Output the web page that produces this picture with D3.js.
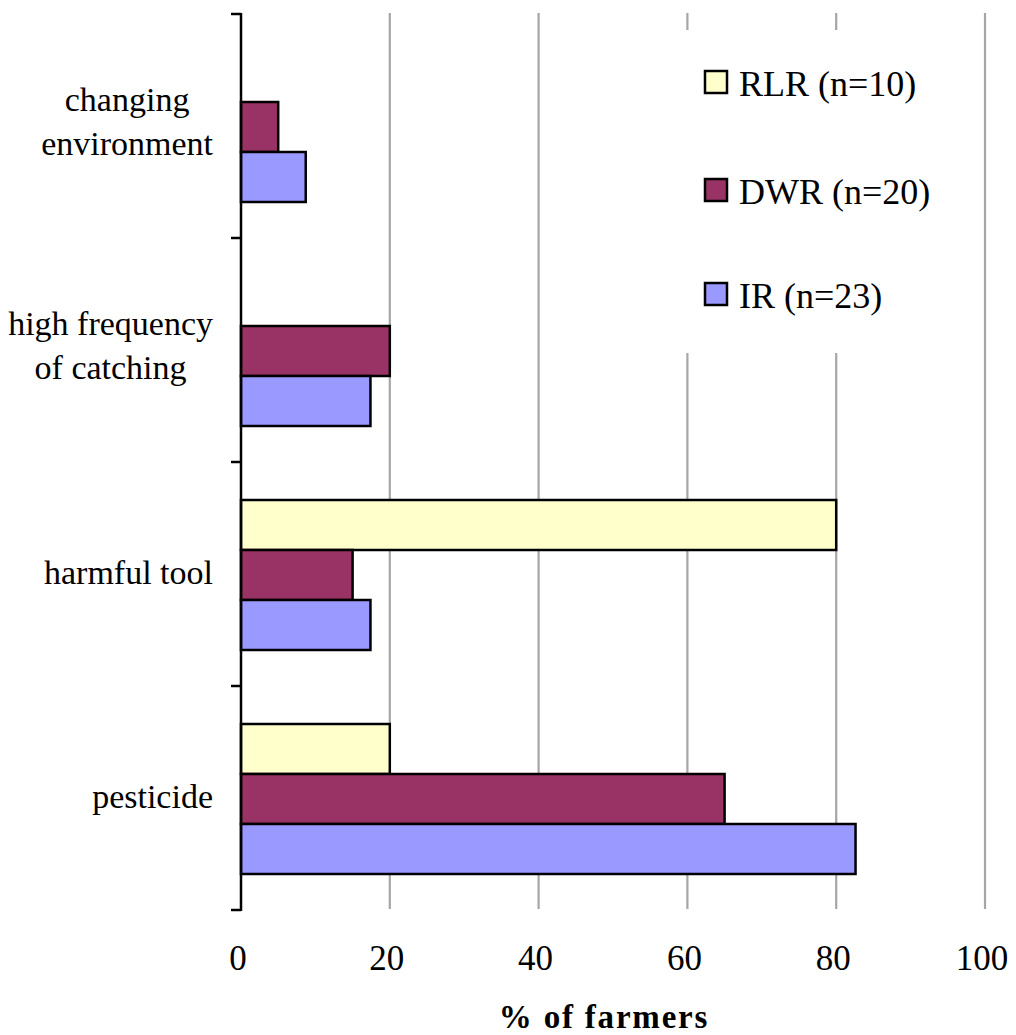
<!DOCTYPE html>
<html><head><meta charset="utf-8">
<script src="https://cdn.jsdelivr.net/npm/d3@7"></script>
<style>body{margin:0;background:#fff}svg{display:block}
svg text{font-family:"Liberation Serif","Times New Roman",Times,"DejaVu Serif",serif;}</style>
</head><body>
<script>
const categories = ["changing environment", "high frequency of catching", "harmful tool", "pesticide"];
const categoryLines = [["changing","environment"],["high frequency","of catching"],["harmful tool"],["pesticide"]];
const seriesNames = ["RLR (n=10)", "DWR (n=20)", "IR (n=23)"];
const seriesKeys = ["RLR","DWR","IR"];
const RLR = [0, 0, 80, 20];
const DWR = [5, 20, 15, 65];
const IR = [8.7, 17.4, 17.4, 82.6];
const xTicks = [0, 20, 40, 60, 80, 100];
const colors = ["#FFFFCC", "#993366", "#9999FF"];
const seriesVals = [RLR, DWR, IR];

const W = 1016, H = 1035;
const svg = d3.select("body").append("svg").attr("width", W).attr("height", H);

const x = d3.scaleLinear().domain([0, 100]).range([241, 985]);
const y = d3.scaleBand().domain(categories).range([14, 910]);
const ys = d3.scaleBand().domain(seriesKeys).range([38, 188]);

// gridlines
svg.append("g").selectAll("line").data(xTicks.filter(d => d > 0)).join("line")
  .attr("x1", d => x(d)).attr("x2", d => x(d)).attr("y1", 13).attr("y2", 909)
  .attr("stroke", "#a6a6a6").attr("stroke-width", 2.2);

// legend background
svg.append("rect").attr("x", 655).attr("y", 30).attr("width", 320).attr("height", 323).attr("fill", "#fff");

// bars
seriesKeys.forEach((k, si) => {
  svg.append("g").selectAll("rect").data(categories.map((c, i) => ({c, v: seriesVals[si][i]})).filter(d => d.v > 0))
    .join("rect")
    .attr("x", x(0)).attr("y", d => y(d.c) + ys(k))
    .attr("width", d => x(d.v) - x(0)).attr("height", ys.bandwidth())
    .attr("fill", colors[si]).attr("stroke", "#000").attr("stroke-width", 2.5);
});

// y axis
const yAxis = svg.append("g");
yAxis.append("line").attr("x1", 241).attr("x2", 241).attr("y1", 13).attr("y2", 911).attr("stroke", "#000").attr("stroke-width", 2.5);
const tickYs = categories.map(c => y(c)).concat([y.range()[1]]);
yAxis.selectAll("line.t").data(tickYs).join("line").attr("class", "t")
  .attr("x1", 231).attr("x2", 241).attr("y1", d => d).attr("y2", d => d)
  .attr("stroke", "#000").attr("stroke-width", 2.5);

// category labels
categories.forEach((c, i) => {
  const lines = categoryLines[i];
  const lh = 44;
  const off = lines.length > 1 ? 7 : 10;
  const cy = y(c) + y.bandwidth() / 2;
  const g = svg.append("g");
  const texts = lines.map((l, j) => g.append("text").text(l)
    .attr("font-size", 34).attr("fill", "#000")
    .attr("y", cy - (lines.length - 1) * lh / 2 + j * lh + off));
  const maxW = d3.max(texts, t => t.node().getComputedTextLength());
  texts.forEach(t => t.attr("text-anchor", "middle").attr("x", 213 - maxW / 2));
});

// x tick labels
svg.append("g").selectAll("text").data(xTicks).join("text")
  .attr("x", d => x(d) - 3).attr("y", 970).attr("text-anchor", "middle")
  .attr("font-size", 35).text(d => d);

// x title
svg.append("text").attr("x", 604).attr("y", 1028).attr("text-anchor", "middle")
  .attr("font-size", 33).attr("font-weight", "bold")
  .attr("letter-spacing", 1.8).text("% of farmers");

// legend
const legY = [71, 179, 283];
seriesNames.forEach((n, i) => {
  svg.append("rect").attr("x", 705).attr("y", legY[i]).attr("width", 22).attr("height", 22)
    .attr("fill", colors[i]).attr("stroke", "#000").attr("stroke-width", 2.5);
  svg.append("text").attr("x", 739).attr("y", legY[i] + 25)
    .attr("font-size", 36).text(n);
});
</script>
</body></html>
